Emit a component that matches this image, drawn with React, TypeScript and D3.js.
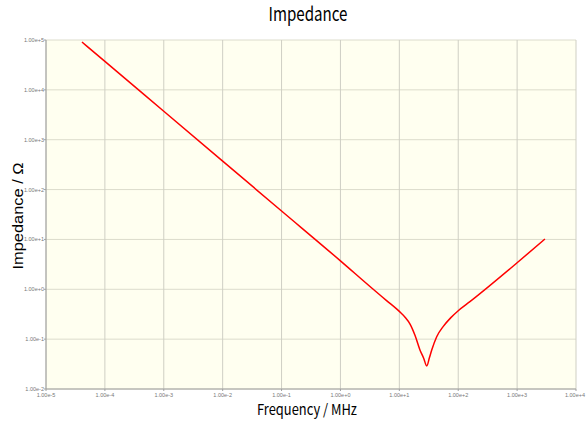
import * as d3 from "d3";

// values (frequency in MHz, impedance in ohm)
const freqs = [4.08e-5, 1e-4, 1e-3, 1e-2, 1e-1, 1, 3.6, 6, 10, 12.5, 15.2, 18.5, 22.4, 26, 29.2, 32.5, 35.5, 43.1, 55.8, 75, 100, 158, 1000, 2970];
const impedance = [9.1e4, 3.72e4, 3.72e3, 372, 37.2, 3.72, 1.0, 0.6, 0.36, 0.275, 0.2, 0.118, 0.0607, 0.041, 0.029, 0.043, 0.0607, 0.112, 0.18, 0.27, 0.372, 0.564, 3.4, 10.2];

const xTicks = [1e-5, 1e-4, 1e-3, 1e-2, 1e-1, 1e0, 1e1, 1e2, 1e3, 1e4];
const yTicks = [1e-2, 1e-1, 1e0, 1e1, 1e2, 1e3, 1e4, 1e5];

const W = 587;
const H = 421;
const margin = { top: 40, right: 11, bottom: 32, left: 46 };

export default function App() {
  const x = d3.scaleLog().domain([1e-5, 1e4]).range([margin.left, W - margin.right]);
  const y = d3.scaleLog().domain([1e-2, 1e5]).range([H - margin.bottom, margin.top]);
  const fmt = d3.format(".2e");

  const points: [number, number][] = freqs.map((f, i) => [f, impedance[i]]);
  const line = d3
    .line<[number, number]>()
    .x((d) => x(d[0]))
    .y((d) => y(d[1]))
    .curve(d3.curveMonotoneX);

  const x0 = x.range()[0];
  const x1 = x.range()[1];
  const y0 = y.range()[0];
  const y1 = y.range()[1];

  return (
    <svg
      width={W}
      height={H}
      style={{ position: "absolute", left: 0, top: 0, display: "block", background: "#fff" }}
    >
      <rect x={x0} y={y1} width={x1 - x0} height={y0 - y1} fill="#fffff0" />

      {/* grid */}
      {yTicks.map((t) => (
        <line key={"gy" + t} x1={x0} x2={x1} y1={y(t)} y2={y(t)} stroke="#dcdccc" strokeWidth={1} />
      ))}
      {xTicks.map((t) => (
        <line key={"gx" + t} x1={x(t)} x2={x(t)} y1={y1} y2={y0} stroke="#cfcfc4" strokeWidth={1} />
      ))}

      {/* axes */}
      <line x1={x0} x2={x0} y1={y1} y2={y0} stroke="#a0a0a0" />
      <line x1={x0} x2={x1} y1={y0} y2={y0} stroke="#a0a0a0" />
      {yTicks.map((t) => (
        <g key={"ty" + t}>
          <line x1={x0 - 2} x2={x0} y1={y(t)} y2={y(t)} stroke="#a0a0a0" />
          <text x={x0 - 2} y={y(t) + 2} textAnchor="end" fontSize={5.5} fill="#777" fontFamily="Liberation Sans">
            {fmt(t)}
          </text>
        </g>
      ))}
      {xTicks.map((t) => {
        // last label would run past the right edge: pin it to the edge
        const atEdge = x(t) + 11 > W - 1;
        return (
          <g key={"tx" + t}>
            <line x1={x(t)} x2={x(t)} y1={y0} y2={y0 + 2} stroke="#a0a0a0" />
            <text
              x={atEdge ? W - 2 : x(t)}
              y={y0 + 8}
              textAnchor={atEdge ? "end" : "middle"}
              fontSize={5.5}
              fill="#777"
              fontFamily="Liberation Sans"
            >
              {fmt(t)}
            </text>
          </g>
        );
      })}

      {/* data */}
      <path d={line(points) || ""} fill="none" stroke="#ff0000" strokeWidth={1.5} />

      {/* labels */}
      <text x={308} y={21} textAnchor="middle" fontSize={19} fill="#000" fontFamily="Noto Sans CJK JP" textLength={79} lengthAdjust="spacingAndGlyphs">
        Impedance
      </text>
      <text x={307} y={415} textAnchor="middle" fontSize={15} fill="#000" fontFamily="Noto Sans CJK JP" textLength={100} lengthAdjust="spacingAndGlyphs">
        Frequency / MHz
      </text>
      <text
        transform={`translate(23,${216}) rotate(-90)`}
        textAnchor="middle"
        fontSize={15}
        fill="#000"
        fontFamily="Liberation Sans"
        textLength={107}
        lengthAdjust="spacingAndGlyphs"
      >
        Impedance / Ω
      </text>
    </svg>
  );
}
